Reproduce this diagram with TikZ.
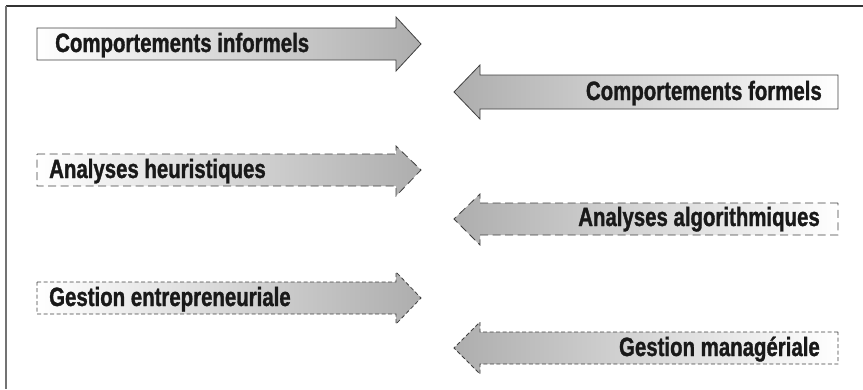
\documentclass[tikz,border=0pt]{standalone}
\usepackage{fontspec}
\newfontfamily\condsans[FakeStretch=0.77, FakeBold=1.2]{Liberation Sans}
\begin{document}
\begin{tikzpicture}[x=1pt,y=-1pt,
  label/.style={inner sep=0pt, font=\condsans\bfseries\fontsize{26.5}{28}\selectfont, text=black!90},
  shaft/.style={draw=black!75, line width=0.8pt, line join=miter},
  longdash/.style={shaft, dash pattern=on 8pt off 4.5pt},
  shortdash/.style={shaft, dash pattern=on 4pt off 2.5pt},
  toright/.style={left color=white, right color=black!32},
  toleft/.style={left color=black!32, right color=white}]
\useasboundingbox (0,0) rectangle (863,389);

% frame
\draw[black!80, line width=1.6pt] (6,6) -- (863,6);
\draw[black!55, line width=2pt] (6,6) -- (6,389);

% right-pointing arrow: #1 style, #2 body top, #3 body bottom, #4 head top, #5 head bottom
\newcommand\rightarrowshape[5]{%
  \path[#1, toright] (37,#2) -- (396,#2) -- (396,#4) -- (421,{(#2+#3)/2}) -- (396,#5)
    -- (396,#3) -- (37,#3) -- cycle;}
% left-pointing arrow
\newcommand\leftarrowshape[5]{%
  \path[#1, toleft] (838,#2) -- (480,#2) -- (480,#4) -- (454,{(#2+#3)/2}) -- (480,#5)
    -- (480,#3) -- (838,#3) -- cycle;}

\rightarrowshape{shaft}{28}{60}{17}{71}
\leftarrowshape{shaft}{75}{109}{65}{119}
\rightarrowshape{longdash}{154}{186}{146}{196}
\leftarrowshape{longdash}{203}{235}{194}{245}
\rightarrowshape{shortdash}{282}{314}{272}{324}
\leftarrowshape{shortdash}{332}{364}{322}{374}

\node[label, anchor=base west] (informel) at (55,52) {Comportements informels};
\node[label, anchor=base east] (formel) at (822,100) {Comportements formels};
\node[label, anchor=base west] (heuristique) at (49,178) {Analyses heuristiques};
\node[label, anchor=base east] (algorithmique) at (820,226) {Analyses algorithmiques};
\node[label, anchor=base west] (entrepreneur) at (49,306) {Gestion entrepreneuriale};
\node[label, anchor=base east] (manager) at (820,356) {Gestion managériale};
\end{tikzpicture}
\end{document}
